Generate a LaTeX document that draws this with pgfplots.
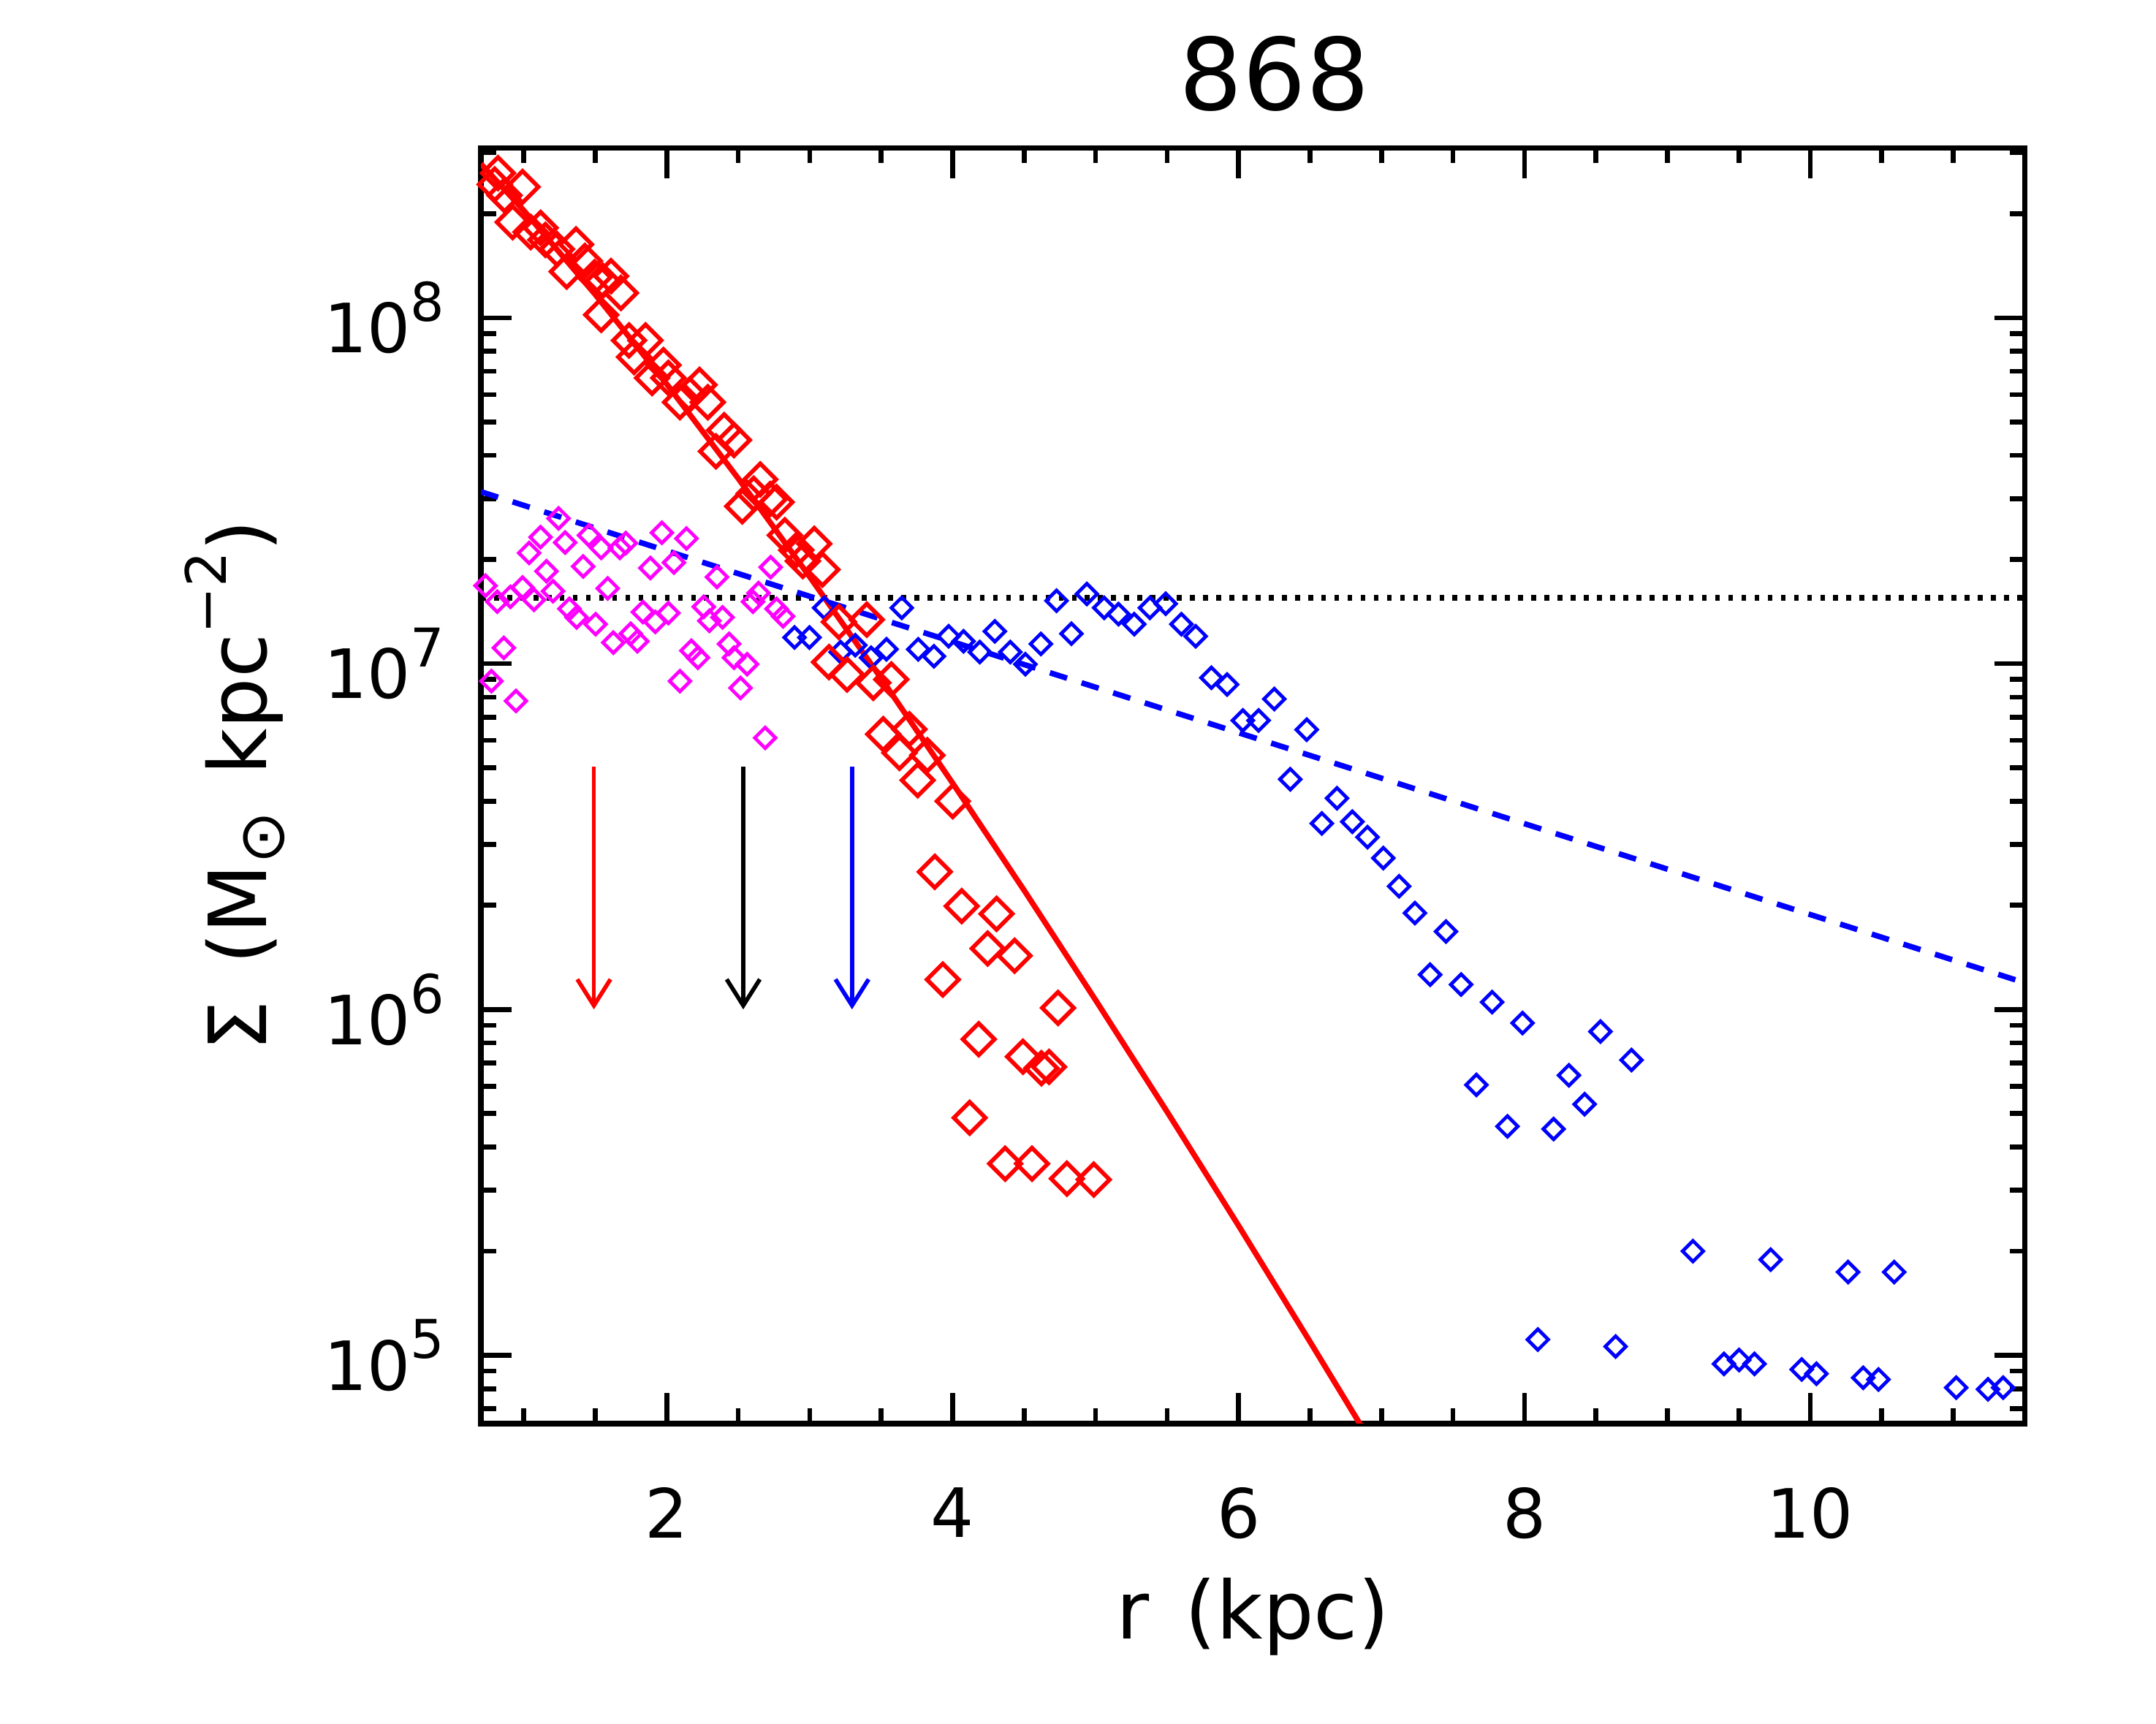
\documentclass[border=0pt]{standalone}
\usepackage{pgfplots}
\pgfplotsset{compat=1.18}
\usepackage{pgfplotstable}
\usepackage{fontspec}
\setmainfont{DejaVu Sans}
\usetikzlibrary{arrows.meta}
\definecolor{mag}{RGB}{255,0,255}
\definecolor{pred}{RGB}{255,0,0}
\definecolor{pblue}{RGB}{0,0,255}
\newcommand{\tp}[1]{10\raisebox{6.5pt}{\fontsize{11}{11}\selectfont #1}}

\pgfplotstableread{
x y
0.796 2.43e8
0.819 2.62e8
0.865 2.26e8
0.922 1.89e8
0.991 2.39e8
1.048 1.77e8
1.117 1.82e8
1.151 1.68e8
1.232 1.58e8
1.300 1.36e8
1.365 1.63e8
1.427 1.46e8
1.495 1.31e8
1.541 1.02e8
1.553 1.28e8
1.610 1.32e8
1.679 1.18e8
1.736 8.6e7
1.771 7.7e7
1.851 8.6e7
1.897 6.7e7
1.977 7.3e7
2.011 6.7e7
2.092 5.7e7
2.161 6.0e7
2.229 6.4e7
2.287 5.7e7
2.344 4.11e7
2.401 4.73e7
2.470 4.43e7
2.528 2.85e7
2.608 3.10e7
2.654 3.41e7
2.722 2.99e7
2.768 2.93e7
2.826 2.35e7
2.906 2.13e7
2.952 1.98e7
3.032 2.22e7
3.089 1.87e7
3.135 1.01e7
3.204 1.32e7
3.261 9.3e6
3.399 1.34e7
3.445 8.8e6
3.514 6.25e6
3.571 9.0e6
3.628 5.52e6
3.697 6.46e6
3.755 4.6e6
3.823 5.43e6
3.875 2.50e6
3.931 1.22e6
4.000 4.0e6
4.063 1.99e6
4.119 4.86e5
4.182 8.2e5
4.245 1.50e6
4.307 1.89e6
4.367 3.58e5
4.433 1.43e6
4.492 7.3e5
4.555 3.58e5
4.621 6.76e5
4.674 6.82e5
4.737 1.01e6
4.799 3.24e5
4.987 3.22e5
}\reddata

\pgfplotstableread{
x y
1.243 2.63e7
1.117 2.32e7
1.037 2.09e7
1.289 2.24e7
1.456 2.35e7
1.541 2.16e7
1.672 2.16e7
1.713 2.23e7
1.966 2.39e7
2.138 2.30e7
1.158 1.85e7
1.415 1.91e7
1.885 1.89e7
2.050 1.96e7
2.351 1.78e7
2.727 1.90e7
0.732 1.68e7
0.991 1.66e7
0.814 1.51e7
0.906 1.56e7
1.071 1.53e7
1.204 1.62e7
1.587 1.65e7
1.319 1.44e7
1.369 1.36e7
1.502 1.30e7
1.626 1.15e7
1.748 1.22e7
1.794 1.16e7
1.833 1.41e7
1.920 1.32e7
2.011 1.40e7
2.259 1.46e7
2.298 1.33e7
2.390 1.36e7
2.603 1.51e7
2.642 1.60e7
2.768 1.44e7
2.814 1.37e7
0.860 1.11e7
0.773 8.9e6
0.945 7.8e6
2.092 8.9e6
2.172 1.09e7
2.218 1.04e7
2.436 1.14e7
2.470 1.04e7
2.562 9.96e6
2.516 8.5e6
2.688 6.1e6
}\magdata

\pgfplotstableread{
x y
2.894 1.19e7
2.998 1.19e7
3.101 1.45e7
3.216 1.08e7
3.319 1.13e7
3.429 1.04e7
3.537 1.10e7
3.644 1.45e7
3.759 1.10e7
3.869 1.05e7
3.972 1.20e7
4.076 1.16e7
4.190 1.08e7
4.295 1.24e7
4.403 1.08e7
4.509 9.96e6
4.617 1.14e7
4.727 1.52e7
4.831 1.22e7
4.939 1.59e7
5.060 1.45e7
5.160 1.39e7
5.270 1.30e7
5.380 1.45e7
5.490 1.49e7
5.600 1.30e7
5.700 1.20e7
5.810 9.1e6
5.920 8.7e6
6.030 6.85e6
6.140 6.85e6
6.250 7.9e6
6.362 4.63e6
6.477 6.44e6
6.583 3.45e6
6.689 4.08e6
6.796 3.49e6
6.902 3.15e6
7.013 2.74e6
7.123 2.27e6
7.234 1.90e6
7.340 1.26e6
7.451 1.68e6
7.557 1.18e6
7.664 6.05e5
7.774 1.05e6
7.881 4.59e5
7.987 9.13e5
8.094 1.11e5
8.204 4.51e5
8.311 6.45e5
8.421 5.32e5
8.532 8.63e5
8.638 1.06e5
8.749 7.14e5
9.179 2.00e5
9.396 9.44e4
9.502 9.69e4
9.609 9.44e4
9.723 1.89e5
9.940 9.1e4
10.043 8.84e4
10.264 1.74e5
10.370 8.61e4
10.477 8.51e4
10.587 1.74e5
11.021 8.06e4
11.243 7.97e4
11.349 8.06e4
}\bluedata

\begin{document}
\begin{tikzpicture}
\begin{axis}[
  at={(0,0)}, anchor=south west,
  scale only axis, width=111.7mm, height=92.3mm,
  xmin=0.7, xmax=11.5,
  ymode=log, ymin=6.35e4, ymax=3.1e8,
  axis line style={line width=0.4mm},
  xtick={2,4,6,8,10}, xticklabels={2,4,6,8,10},
  minor xtick={1,1.5,2.5,3,3.5,4.5,5,5.5,6.5,7,7.5,8.5,9,9.5,10.5,11},
  ytick={1e5,1e6,1e7,1e8},
  yticklabels={{\tp{5}},{\tp{6}},{\tp{7}},{\tp{8}}},
  minor ytick={7e4,8e4,9e4,2e5,3e5,4e5,5e5,6e5,7e5,8e5,9e5,2e6,3e6,4e6,5e6,6e6,7e6,8e6,9e6,2e7,3e7,4e7,5e7,6e7,7e7,8e7,9e7,2e8,3e8},
  tick align=inside, xtick pos=both, ytick pos=both,
  major tick length=2.2mm, minor tick length=1.1mm,
  tick style={black, line width=0.35mm},
  tick label style={font=\fontsize{14}{16}\selectfont},
  xticklabel style={yshift=-3.4mm},
  yticklabel style={xshift=-1.4mm},
  xlabel={r\hspace{0.45em}(kpc)},
  xlabel style={at={(axis description cs:0.5,-0.1517)}, anchor=center, font=\fontsize{16.5}{18}\selectfont},
  ylabel={Σ\hspace{0.45em}(M\raisebox{-0.22em}{\fontsize{13}{13}\selectfont ⊙}\hspace{0.45em}kpc\raisebox{0.5em}{\fontsize{11.5}{12}\selectfont −2})},
  ylabel style={at={(axis description cs:-0.1594,0.5)}, anchor=center, font=\fontsize{16.5}{18}\selectfont},
  every axis title shift=0pt,
  title={868},
  title style={at={(axis description cs:0.514,1.058)}, anchor=center, font=\fontsize{20.5}{24}\selectfont},
]
\addplot[only marks, mag, mark=square, mark size=0.53mm, mark options={rotate=45, line width=0.25mm, solid}] table[x=x,y=y] {\magdata};
\addplot[only marks, pblue, mark=square, mark size=0.53mm, mark options={rotate=45, line width=0.25mm, solid}] table[x=x,y=y] {\bluedata};
\addplot[only marks, pred, mark=square, mark size=0.81mm, mark options={rotate=45, line width=0.3mm, solid}] table[x=x,y=y] {\reddata};
\addplot[black, line width=0.4mm, dash pattern=on 0.35mm off 0.6mm] coordinates {(0.7,1.55e7) (11.5,1.55e7)};
\addplot[pblue, line width=0.4mm, dash pattern=on 1.3mm off 1.1mm] coordinates {(0.7,3.14e7) (11.5,1.194e6)};
\addplot[pred, line width=0.4mm] coordinates {(0.7,2.786e8) (1.0,2.042e8) (1.5,1.167e8) (2.0,6.43e7) (2.5,3.43e7) (3.0,1.782e7) (3.5,9.06e6) (4.0,4.51e6) (4.5,2.21e6) (5.0,1.064e6) (5.5,5.06e5) (6.0,2.37e5) (6.5,1.094e5) (7.0,5.0e4)};
\addplot[pred, line width=0.3mm, -{Straight Barb[length=1.9mm,width=2.4mm]}] coordinates {(1.49,5.03e6) (1.49,1e6)};
\addplot[black, line width=0.3mm, -{Straight Barb[length=1.9mm,width=2.4mm]}] coordinates {(2.535,5.03e6) (2.535,1e6)};
\addplot[pblue, line width=0.3mm, -{Straight Barb[length=1.9mm,width=2.4mm]}] coordinates {(3.296,5.03e6) (3.296,1e6)};
\end{axis}
\pgfresetboundingbox
\path[use as bounding box] (-34.8mm,-21.7mm) rectangle (121.2mm,103.0mm);
\end{tikzpicture}
\end{document}
